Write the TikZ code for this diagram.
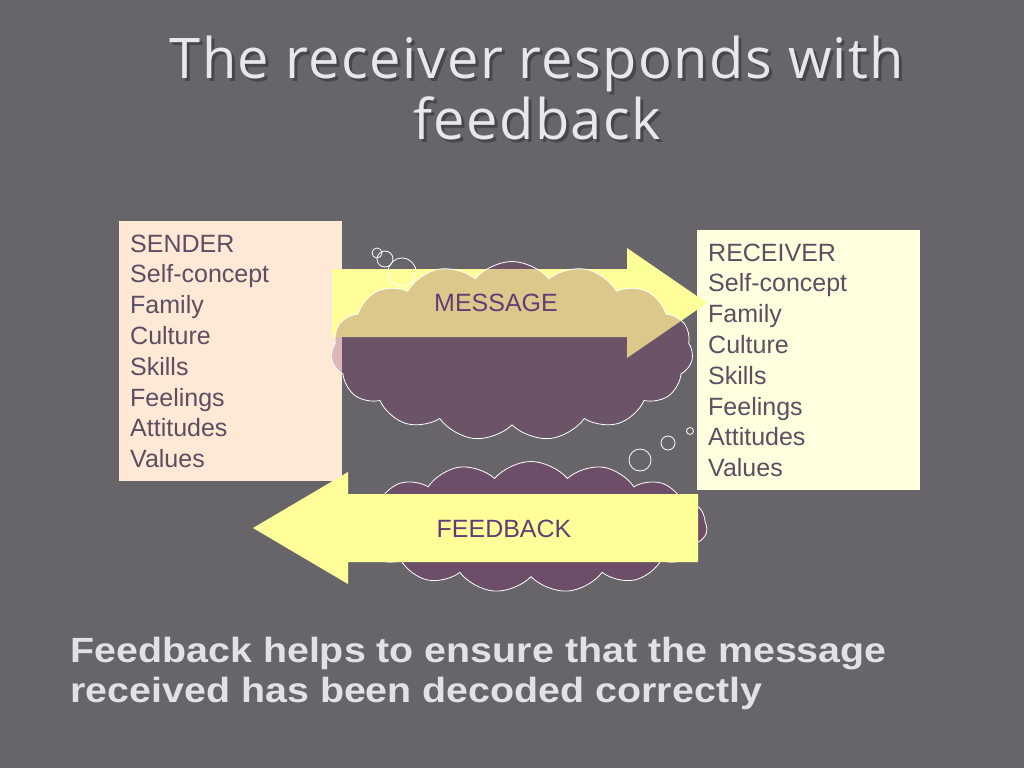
\documentclass[tikz,border=0pt]{standalone}
\usepackage{fontspec}
\setmainfont{Liberation Sans}
\newfontfamily\titlefont{Open Sans}[LetterSpace=2.5]
\newfontfamily\notefont{Liberation Sans}[FakeStretch=1.125]
\usetikzlibrary{positioning, shapes.symbols}
\definecolor{slidegray}{HTML}{67656A}
\definecolor{senderpeach}{HTML}{FEE8D6}
\definecolor{receiverlemon}{HTML}{FFFFE0}
\definecolor{arrowyellow}{HTML}{FFFF99}
\definecolor{cloudplum}{HTML}{782464}
\definecolor{boxink}{HTML}{5B4F60}
\definecolor{labelink}{HTML}{643C78}
\definecolor{titleink}{HTML}{E8E8EC}
\definecolor{titleshade}{HTML}{47464A}
\definecolor{noteink}{HTML}{E2E1E8}

\begin{document}
\begin{tikzpicture}[
    x=1pt, y=-1pt,
    listbox/.style={anchor=north west, align=left, text=boxink, inner xsep=11pt, inner ysep=0pt,
      text width=201pt, minimum width=223pt, minimum height=260pt,
      font=\fontsize{25}{30.8}\selectfont},
    thought/.style={cloud, cloud puffs=15, cloud puff arc=100, cloud ignores aspect, draw=white, line width=0.8pt,
      fill=cloudplum, fill opacity=0.25, inner sep=0pt},
    bubble/.style={draw=white, line width=0.8pt},
    tag/.style={text=labelink, font=\fontsize{25}{30}\selectfont},
    titletext/.style={align=center, font=\titlefont\fontsize{56}{61}\selectfont},
  ]
  \fill[slidegray] (0,0) rectangle (1024,768);

  % title with its shadow
  \node[titletext, text=titleshade] (titleshadow) at (540,91) {The receiver responds with\\feedback};
  \node[titletext, text=titleink] (title) at (537,88) {The receiver responds with\\feedback};

  % the two boxes
  \node[listbox, fill=senderpeach] (sender) at (119,221) {SENDER\\Self-concept\\Family\\Culture\\Skills\\Feelings\\Attitudes\\Values};
  \node[listbox, fill=receiverlemon] (receiver) at (697,230) {RECEIVER\\Self-concept\\Family\\Culture\\Skills\\Feelings\\Attitudes\\Values};

  % message going out
  \fill[arrowyellow] (332,269) -- (627,269) -- (627,248) -- (707,303) -- (627,358) -- (627,337) -- (332,337) -- cycle;
  \node[thought, minimum width=362pt, minimum height=179pt] (msgcloud) at (512,351) {};
  \draw[bubble] (377,253) circle[radius=5pt];
  \draw[bubble] (385,259) circle[radius=8pt];
  \draw[bubble] (402,272) circle[radius=14pt];
  \node[tag] (msglabel) at (496,303) {MESSAGE};

  % feedback coming back
  \node[thought, fill opacity=1, fill=cloudplum!35!slidegray, minimum width=352pt, minimum height=131pt] (fbcloud) at (531,527) {};
  \draw[bubble] (690,431) circle[radius=3.5pt];
  \draw[bubble] (668,443) circle[radius=7pt];
  \draw[bubble] (640,460) circle[radius=11pt];
  \fill[arrowyellow] (698,494) -- (348,494) -- (348,472) -- (253,528) -- (348,584) -- (348,562) -- (698,562) -- cycle;
  \node[tag] (fblabel) at (504,529) {FEEDBACK};

  \node[anchor=west, align=left, text=noteink, font=\notefont\bfseries\fontsize{35}{40}\selectfont] (note) at (67,673)
    {Feedback helps to ensure that the message\\received has been decoded correctly};
\end{tikzpicture}
\end{document}
